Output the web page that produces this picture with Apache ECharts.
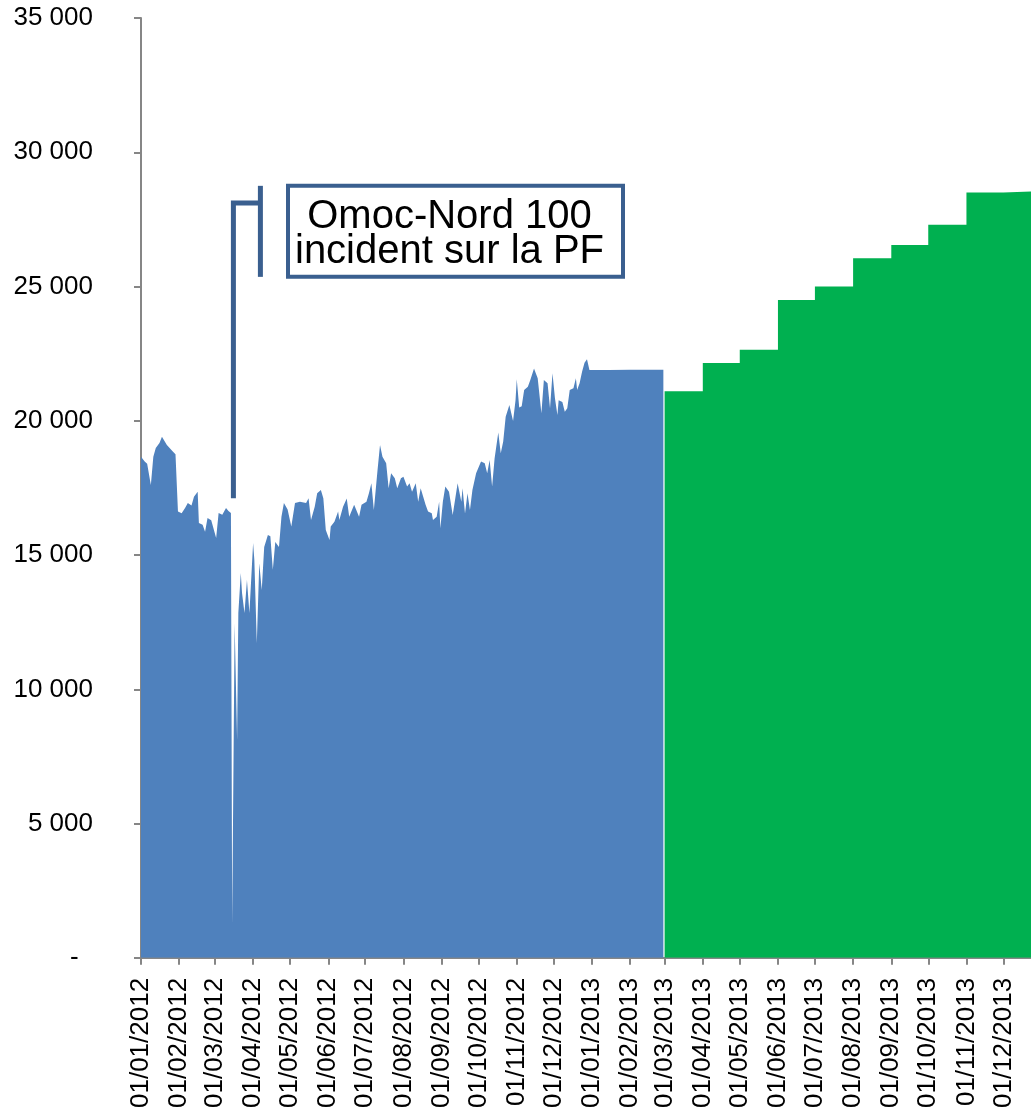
<!DOCTYPE html>
<html>
<head>
<meta charset="utf-8">
<script src="https://cdn.jsdelivr.net/npm/echarts@6/dist/echarts.min.js"></script>
<style>
  html, body { margin: 0; padding: 0; background: #fff; }
  #chart { width: 1031px; height: 1111px; }
</style>
</head>
<body>
<div id="chart"></div>
<script>
// valeurs journalières (série bleue)
const blueDates = [
  '2012-01-01','2012-01-04','2012-01-06','2012-01-09','2012-01-11','2012-01-13','2012-01-16','2012-01-18',
  '2012-01-22','2012-01-27','2012-01-29','2012-01-31','2012-02-03','2012-02-06','2012-02-08','2012-02-11',
  '2012-02-13','2012-02-16','2012-02-17','2012-02-20','2012-02-22','2012-02-24','2012-02-27','2012-03-02',
  '2012-03-04','2012-03-07','2012-03-10','2012-03-12','2012-03-14','2012-03-15','2012-03-17','2012-03-19',
  '2012-03-20','2012-03-22','2012-03-23','2012-03-25','2012-03-27','2012-03-29','2012-04-01','2012-04-02',
  '2012-04-04','2012-04-06','2012-04-08','2012-04-10','2012-04-13','2012-04-15','2012-04-17','2012-04-19',
  '2012-04-22','2012-04-24','2012-04-26','2012-04-29','2012-05-02','2012-05-05','2012-05-09','2012-05-14',
  '2012-05-16','2012-05-18','2012-05-21','2012-05-23','2012-05-26','2012-05-28','2012-05-30','2012-06-02',
  '2012-06-03','2012-06-06','2012-06-09','2012-06-10','2012-06-13','2012-06-16','2012-06-18','2012-06-22',
  '2012-06-26','2012-06-28','2012-07-02','2012-07-04','2012-07-06','2012-07-08','2012-07-10','2012-07-11',
  '2012-07-13','2012-07-15','2012-07-18','2012-07-20','2012-07-22','2012-07-25','2012-07-27','2012-07-30',
  '2012-08-01','2012-08-04','2012-08-06','2012-08-08','2012-08-11','2012-08-13','2012-08-15','2012-08-17',
  '2012-08-19','2012-08-21','2012-08-24','2012-08-25','2012-08-28','2012-08-30','2012-08-31','2012-09-02',
  '2012-09-04','2012-09-07','2012-09-10','2012-09-11','2012-09-14','2012-09-17','2012-09-18','2012-09-20',
  '2012-09-22','2012-09-24','2012-09-26','2012-09-29','2012-10-03','2012-10-06','2012-10-08','2012-10-10',
  '2012-10-12','2012-10-14','2012-10-17','2012-10-19','2012-10-21','2012-10-23','2012-10-26','2012-10-29',
  '2012-10-31','2012-11-01','2012-11-03','2012-11-05','2012-11-07','2012-11-10','2012-11-12','2012-11-15',
  '2012-11-18','2012-11-21','2012-11-23','2012-11-26','2012-11-28','2012-11-30','2012-12-02','2012-12-04',
  '2012-12-05','2012-12-08','2012-12-10','2012-12-12','2012-12-14','2012-12-17','2012-12-19','2012-12-20',
  '2012-12-22','2012-12-24','2012-12-26','2012-12-28','2012-12-30','2013-01-15','2013-02-01','2013-02-28'
];
const blueValues = [
  18660,18480,18400,17610,18660,18990,19170,19410,
  19100,18850,18750,16620,16560,16770,16940,16850,
  17170,17360,16190,16130,15870,16380,16300,15640,
  16570,16500,16750,16640,16570,1230,12470,8120,
  12840,14330,13590,12840,14070,12840,15450,14820,
  11730,14700,13700,15300,15750,15700,14450,15490,
  15300,16430,16940,16700,16060,16940,16990,16940,
  17120,16310,16800,17300,17420,17120,15930,15560,
  16060,16240,16620,16310,16800,17110,16430,16870,
  16430,16870,16990,17300,17670,16680,17670,18170,
  19100,18660,18420,17490,18050,17860,17490,17860,
  17920,17550,17670,17360,17670,16990,17490,17180,
  16870,16620,16560,16310,16430,16990,16000,16990,
  17550,17360,16490,16430,17670,16990,17490,16550,
  17300,16680,17420,18050,18480,18420,18050,18540,
  17550,18600,19560,18790,19230,20150,20590,19990,
  20770,21550,20500,20540,21150,21270,21520,21950,
  21580,20280,21520,21400,20470,21770,20840,20220,
  20770,20700,20340,20470,21150,21210,21580,21150,
  21400,21830,22160,22290,21890,21890,21900,21900
];

// paliers mensuels 2013 (série verte)
const greenDates = [
  '2013-03-01','2013-04-01','2013-05-01','2013-06-01','2013-07-01','2013-08-01',
  '2013-09-01','2013-10-01','2013-11-01','2013-12-01','2013-12-31'
];
const greenValues = [21100,22150,22650,24500,25000,26050,26550,27300,28500,28550,28550];

// graduations de l'axe des dates
const monthTicks = [
  '2012-01-01','2012-02-01','2012-03-01','2012-04-01','2012-05-01','2012-06-01',
  '2012-07-01','2012-08-01','2012-09-01','2012-10-01','2012-11-01','2012-12-01',
  '2013-01-01','2013-02-01','2013-03-01','2013-04-01','2013-05-01','2013-06-01',
  '2013-07-01','2013-08-01','2013-09-01','2013-10-01','2013-11-01','2013-12-01'
];

const FONT = '"Liberation Sans", Arial, sans-serif';
const DAY = 24 * 3600 * 1000;
// dates -> jours UTC depuis l'époque (axe numérique)
function toDay(s) {
  const p = s.split('-');
  return Date.UTC(+p[0], +p[1] - 1, +p[2]) / DAY;
}
const tickDays = monthTicks.map(toDay);

function pad2(n) { return (n < 10 ? '0' : '') + n; }
function fmtDate(v) {
  const d = new Date(Math.round(v) * DAY);
  return pad2(d.getUTCDate()) + '/' + pad2(d.getUTCMonth() + 1) + '/' + d.getUTCFullYear();
}
function fmtNum(v) {
  if (v === 0) return '-  ';
  return String(v).replace(/\B(?=(\d{3})+(?!\d))/g, ' ');
}

const chart = echarts.init(document.getElementById('chart'), null, { renderer: 'canvas' });

const option = {
  animation: false,
  backgroundColor: '#ffffff',
  grid: { left: 141, right: 0, top: 18, bottom: 153, containLabel: false },
  xAxis: {
    type: 'value',
    min: toDay('2012-01-01'),
    max: toDay('2013-12-23') + 0.4,
    splitLine: { show: false },
    axisLine: { onZero: false, lineStyle: { color: '#868686', width: 2 } },
    axisTick: { show: true, length: 7, lineStyle: { color: '#868686', width: 2 }, customValues: tickDays },
    axisLabel: {
      customValues: tickDays,
      rotate: 90,
      margin: 20,
      color: '#000',
      fontFamily: FONT,
      fontSize: 26,
      formatter: fmtDate
    }
  },
  yAxis: {
    type: 'value',
    min: 0,
    max: 35000,
    interval: 5000,
    splitLine: { show: false },
    axisLine: { show: true, lineStyle: { color: '#868686', width: 2 } },
    axisTick: { show: true, length: 7, lineStyle: { color: '#868686', width: 2 } },
    axisLabel: { margin: 48, color: '#000', fontFamily: FONT, fontSize: 26, formatter: fmtNum }
  },
  series: [
    {
      name: 'réalisé',
      type: 'line',
      data: blueDates.map(function (d, i) { return [toDay(d), blueValues[i]]; }),
      showSymbol: false,
      symbol: 'none',
      lineStyle: { width: 0 },
      itemStyle: { color: '#4F81BD' },
      areaStyle: { color: '#4F81BD', opacity: 1 },
      z: 2
    },
    {
      name: 'prévision',
      type: 'line',
      step: 'end',
      data: greenDates.map(function (d, i) { return [toDay(d), greenValues[i]]; }),
      showSymbol: false,
      symbol: 'none',
      lineStyle: { width: 0 },
      itemStyle: { color: '#00B050' },
      areaStyle: { color: '#00B050', opacity: 1 },
      z: 2
    }
  ]
};

chart.setOption(option);

// légende d'annotation (incident)
const calloutColor = '#3A5F8F';
const anchorDay = toDay('2012-03-16');
const pBottom = chart.convertToPixel({ gridIndex: 0 }, [anchorDay, 17120]);
const pTop = chart.convertToPixel({ gridIndex: 0 }, [anchorDay, 28110]);
const barX = pTop[0] + 27;
const boxTop = chart.convertToPixel({ gridIndex: 0 }, [anchorDay, 28750])[1];
const boxBottom = chart.convertToPixel({ gridIndex: 0 }, [anchorDay, 25360])[1];
const boxLeft = 288, boxRight = 623;

chart.setOption({
  graphic: [
    {
      type: 'polyline',
      shape: { points: [[pBottom[0], pBottom[1]], [pTop[0], pTop[1]], [barX, pTop[1]]] },
      style: { stroke: calloutColor, lineWidth: 5, fill: null },
      z: 10
    },
    {
      type: 'line',
      shape: { x1: barX, y1: boxTop, x2: barX, y2: boxBottom },
      style: { stroke: calloutColor, lineWidth: 5 },
      z: 10
    },
    {
      type: 'rect',
      shape: { x: boxLeft, y: boxTop, width: boxRight - boxLeft, height: boxBottom - boxTop },
      style: { fill: '#fff', stroke: calloutColor, lineWidth: 4 },
      z: 10
    },
    {
      type: 'text',
      x: (boxLeft + boxRight) / 2 - 6,
      y: (boxTop + boxBottom) / 2 + 3,
      style: {
        text: 'Omoc-Nord 100\nincident sur la PF',
        fill: '#000',
        font: '40px ' + FONT,
        align: 'center',
        verticalAlign: 'middle',
        lineHeight: 35
      },
      z: 11
    }
  ]
});
</script>
</body>
</html>
